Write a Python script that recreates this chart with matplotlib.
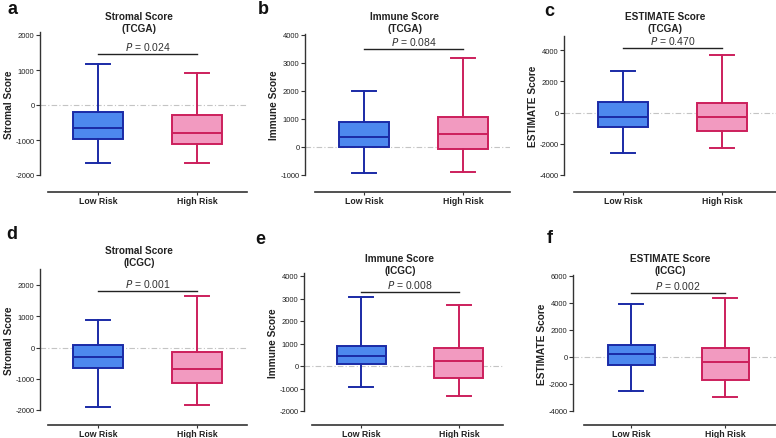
import matplotlib
matplotlib.use("Agg")
import matplotlib.pyplot as plt

W, H = 776, 439
DPI = 100

groups = ["Low Risk", "High Risk"]
panel_letters = ["a", "b", "c", "d", "e", "f"]
titles = ["Stromal Score\n(TCGA)", "Immune Score\n(TCGA)", "ESTIMATE Score\n(TCGA)",
          "Stromal Score\n(ICGC)", "Immune Score\n(ICGC)", "ESTIMATE Score\n(ICGC)"]
ylabels = ["Stromal Score", "Immune Score", "ESTIMATE Score",
           "Stromal Score", "Immune Score", "ESTIMATE Score"]
pvalues = ["0.024", "0.084", "0.470", "0.001", "0.008", "0.002"]

# five-number summaries: (whislo, q1, med, q3, whishi) for Low Risk / High Risk
low_stats = [(-1650, -970, -670, -200, 1180),
             (-920, -10, 370, 900, 2000),
             (-2560, -930, -270, 650, 2650),
             (-1900, -650, -300, 80, 880),
             (-950, 80, 450, 880, 3050),
             (-2520, -620, 230, 880, 3950)]
high_stats = [(-1660, -1120, -790, -280, 920),
              (-880, -80, 450, 1060, 3180),
              (-2280, -1170, -270, 620, 3700),
              (-1850, -1150, -700, -150, 1650),
              (-1330, -520, 220, 780, 2700),
              (-2980, -1680, -380, 650, 4380)]
yticks = [[-2000, -1000, 0, 1000, 2000],
          [-1000, 0, 1000, 2000, 3000, 4000],
          [-4000, -2000, 0, 2000, 4000],
          [-2000, -1000, 0, 1000, 2000],
          [-2000, -1000, 0, 1000, 2000, 3000, 4000],
          [-4000, -2000, 0, 2000, 4000, 6000]]
ylims = [(-2000, 2080), (-1000, 4050), (-4000, 4900),
         (-2000, 2500), (-2000, 4150), (-4000, 6050)]
pbar_y = [1450, 3500, 4150, 1820, 3300, 4750]

# layout in pixels (position only)
layout = [
    # spine_x, c1, c2, right, (v1, y1), (v2, y2), xaxis_y
    (40, 98, 197, 247, (2000, 36), (-2000, 176), 188),
    (305, 364, 463, 510, (4000, 36), (-1000, 176), 188),
    (564, 623, 722, 776, (4000, 51), (-4000, 176), 188),
    (40, 98, 197, 247, (2000, 286), (-2000, 411), 422),
    (304, 361, 459, 503, (4000, 277), (-2000, 412), 422),
    (573, 631, 725, 776, (6000, 277), (-4000, 412), 422),
]
title_pos = [(139, 23), (405, 23), (665, 23), (139, 257), (400, 265), (670, 265)]
letter_pos = [(12, 9), (263, 9), (549, 11), (12, 235), (260, 240), (550, 239)]

low_face, low_edge = "#4d88ee", "#1a2aa6"
high_face, high_edge = "#f29ac0", "#cc1f5c"
axis_col = "#333333"

fig = plt.figure(figsize=(W / DPI, H / DPI), dpi=DPI)
plt.rcParams['font.family'] = ['Liberation Sans', 'DejaVu Sans']

for i in range(6):
    sx, c1, c2, right, (v1, y1), (v2, y2), xay = layout[i]
    ylo, yhi = ylims[i]
    ppu = (y2 - y1) / (v1 - v2)  # pixels per unit (downwards)
    top_px = y1 - (yhi - v1) * ppu
    bot_px = y1 + (v1 - ylo) * ppu
    xppu = c2 - c1
    xlo = 1 - (c1 - sx) / xppu
    xhi = 2 + (right - c2) / xppu
    ax = fig.add_axes([sx / W, 1 - bot_px / H, (right - sx) / W, (bot_px - top_px) / H])
    ax.set_xlim(xlo, xhi)
    ax.set_ylim(ylo, yhi)

    stats = []
    for g, s in zip(groups, [low_stats[i], high_stats[i]]):
        stats.append(dict(label=g, whislo=s[0], q1=s[1], med=s[2], q3=s[3], whishi=s[4], fliers=[]))
    bp = ax.bxp(stats, positions=[1, 2], widths=0.5, patch_artist=True, showfliers=False,
                capwidths=0.25)
    for j, (fc, ec) in enumerate([(low_face, low_edge), (high_face, high_edge)]):
        bp['boxes'][j].set_facecolor(fc)
        bp['boxes'][j].set_edgecolor(ec)
        bp['boxes'][j].set_linewidth(1.4)
        bp['medians'][j].set_color(ec)
        bp['medians'][j].set_linewidth(1.4)
        for k in (2 * j, 2 * j + 1):
            bp['whiskers'][k].set_color(ec)
            bp['whiskers'][k].set_linewidth(1.4)
            bp['caps'][k].set_color(ec)
            bp['caps'][k].set_linewidth(1.4)

    ax.axhline(0, color="#c4c4c4", lw=0.8, ls=(0, (5, 2, 1, 2)), zorder=0)

    for sp in ("top", "right"):
        ax.spines[sp].set_visible(False)
    ax.spines['left'].set_color(axis_col)
    ax.spines['left'].set_linewidth(1.0)
    ax.spines['bottom'].set_color(axis_col)
    ax.spines['bottom'].set_linewidth(1.2)
    ax.spines['bottom'].set_position(('outward', xay - bot_px))
    ax.spines['bottom'].set_bounds(0.5, xhi)

    ax.set_yticks(yticks[i])
    ax.set_yticklabels([str(t) for t in yticks[i]], fontsize=5.5, color="#222222")
    ax.tick_params(axis='y', length=3, width=0.8, color=axis_col, pad=1)
    ax.set_xticks([1, 2])
    ax.set_xticklabels(groups, fontsize=6.3, fontweight='bold', color="#222222")
    ax.tick_params(axis='x', length=2, width=0.8, color=axis_col, pad=0.8)
    ax.set_ylabel(ylabels[i], fontsize=7.3, fontweight='bold', color="#222222", labelpad=1)
    ax.patch.set_alpha(0)

    # significance bar
    ax.plot([1, 2], [pbar_y[i], pbar_y[i]], color="#222222", lw=1.0, clip_on=False)
    ax.annotate(r"$\it{P}$ = " + pvalues[i], xy=(1.5, pbar_y[i]), xytext=(0, 1.5),
                textcoords='offset points', ha='center', va='bottom',
                fontsize=7.5, color="#333333", annotation_clip=False)

    tx, ty = title_pos[i]
    fig.text(tx / W, 1 - ty / H, titles[i], ha='center', va='center', fontsize=7.2,
             fontweight='bold', color="#222222", linespacing=1.25)
    lx, ly = letter_pos[i]
    fig.text(lx / W, 1 - ly / H, panel_letters[i], ha='center', va='center', fontsize=13,
             fontweight='bold', color="#111111")

fig.savefig("out.png", dpi=DPI)
